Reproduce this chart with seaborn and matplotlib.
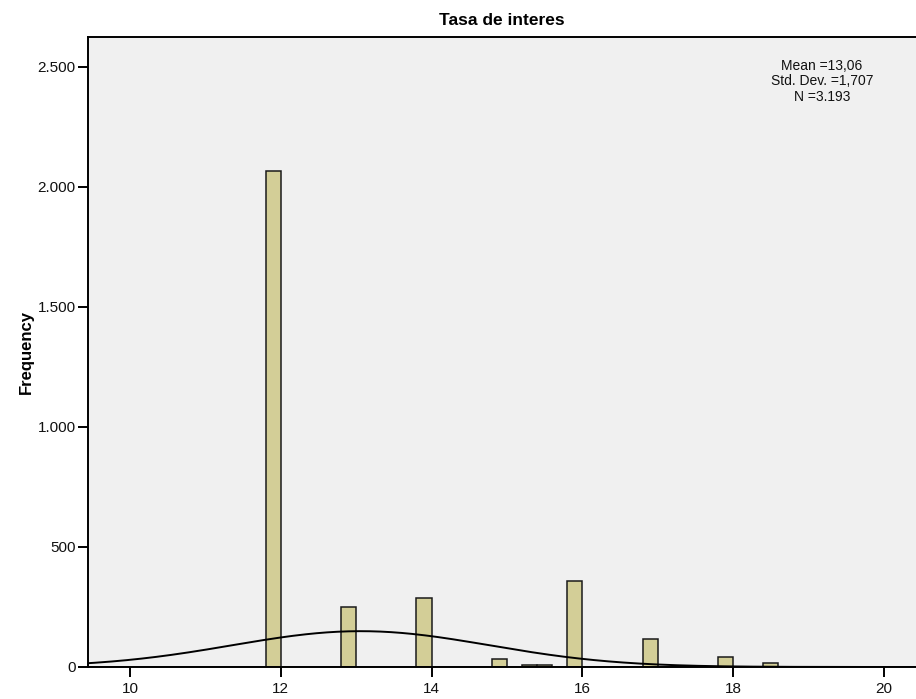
import numpy as np
import pandas as pd
import matplotlib
matplotlib.use("Agg")
import matplotlib.pyplot as plt
import matplotlib.ticker as mticker
import seaborn as sns

# Interest-rate histogram: bin left edges (width 0.2) and frequencies
bin_left = [11.6, 11.8, 12.4, 12.8, 13.8, 14.4, 14.8, 15.2, 15.4,
            15.8, 16.8, 17.8, 18.4, 18.6]
counts = [1, 2068, 1, 248, 286, 1, 35, 10, 10,
          358, 117, 42, 15, 1]

stat_mean = 13.06
stat_sd = 1.707
stat_n = 3193
bin_width = 0.2

x_ticks = [10, 12, 14, 16, 18, 20]
y_ticks = [0, 500, 1000, 1500, 2000, 2500]

sns.set_theme(style="white")
plt.rcParams["font.family"] = ["Liberation Sans", "DejaVu Sans"]
plt.rcParams["text.color"] = "black"
plt.rcParams["axes.labelcolor"] = "black"

df = pd.DataFrame({"tasa": [b + bin_width / 2 for b in bin_left],
                   "freq": [float(c) for c in counts]})

fig = plt.figure(figsize=(9.16, 6.99), dpi=100)
ax = fig.add_axes([0.0964, 0.0458, 0.9036, 0.9013])
ax.set_facecolor("#F0F0F0")

sns.histplot(data=df, x="tasa", weights="freq", binwidth=bin_width,
             binrange=(9.4, 20.6), ax=ax,
             color="#D3CE97", alpha=1.0, edgecolor="#1a1a1a", linewidth=1.1)

# Fitted normal curve scaled to the histogram
xs = np.linspace(9.3, 20.6, 400)
ys = stat_n * bin_width / (stat_sd * np.sqrt(2 * np.pi)) * np.exp(-0.5 * ((xs - stat_mean) / stat_sd) ** 2)
sns.lineplot(x=xs, y=ys, ax=ax, color="black", linewidth=1.4)

ax.set_xlim(9.444, 20.43)
ax.set_ylim(0, 2625)
ax.set_xticks(x_ticks)
ax.set_yticks(y_ticks)
ax.yaxis.set_major_formatter(mticker.FuncFormatter(lambda v, p: f"{int(v):,}".replace(",", ".")))

for side in ["left", "top", "bottom"]:
    ax.spines[side].set_visible(True)
    ax.spines[side].set_color("black")
    ax.spines[side].set_linewidth(1.4)
ax.spines["right"].set_visible(False)

ax.tick_params(axis="both", direction="out", length=7, width=1.4, color="black",
               labelsize=11, labelcolor="#111111", pad=2,
               bottom=True, left=True)
ax.tick_params(axis="x", pad=4)
ax.set_xlabel("")
ax.set_ylabel("Frequency", fontsize=12, fontweight="bold", labelpad=3, color="black")

fig.text(0.548, 0.970, "Tasa de interes", ha="center", va="center",
         fontsize=12.5, fontweight="bold", color="black")

ax.text(822, 699 - 59, "Mean =13,06\nStd. Dev. =1,707\nN =3.193",
        transform=None, ha="center", va="top", fontsize=10,
        linespacing=1.12, color="#111111")

fig.savefig("out.png", dpi=100)
